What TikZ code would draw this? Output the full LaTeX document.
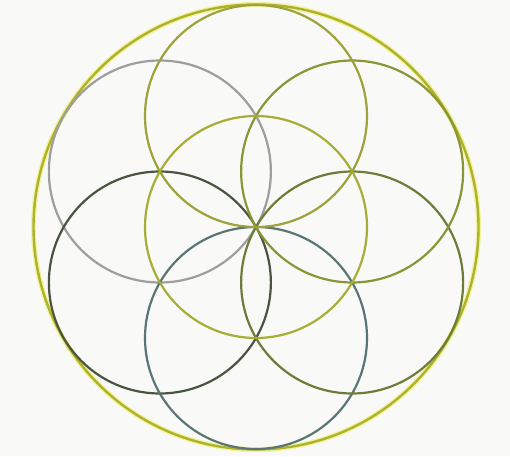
\documentclass[tikz,border=0pt]{standalone}
\usetikzlibrary{calc}
\definecolor{bgc}{HTML}{F9F9F7}
\definecolor{outerc}{HTML}{B0B22C}
\definecolor{glowc}{HTML}{EEF27A}
\definecolor{topc}{HTML}{9EA23A}
\definecolor{urc}{HTML}{8A9636}
\definecolor{lrc}{HTML}{6C7C3A}
\definecolor{botc}{HTML}{5A7674}
\definecolor{llc}{HTML}{4A5442}
\definecolor{ulc}{HTML}{9E9E9E}
\definecolor{cenc}{HTML}{A6AE36}
\tikzset{
  petal/.style={line width=2.2pt},
  glow/.style={line width=5pt, glowc, opacity=0.7},
}
\begin{document}
\begin{tikzpicture}[x=1pt,y=1pt]
\fill[bgc] (0,0) rectangle (510,456);
\useasboundingbox (0,0) rectangle (510,456);
\coordinate (C) at (256,229);
\def\rr{111}
\coordinate (P1) at ($(C)+(90:\rr)$);
\coordinate (P2) at ($(C)+(30:\rr)$);
\coordinate (P3) at ($(C)+(-30:\rr)$);
\coordinate (P4) at ($(C)+(-90:\rr)$);
\coordinate (P5) at ($(C)+(-150:\rr)$);
\coordinate (P6) at ($(C)+(150:\rr)$);
% outer circle with glow
\draw[glow] (C) circle (222.5);
\draw[outerc, line width=2.4pt] (C) circle (222.5);
% petals
\draw[petal, ulc] (P6) circle (\rr);
\draw[petal, llc] (P5) circle (\rr);
\draw[petal, botc] (P4) circle (\rr);
\draw[petal, lrc] (P3) circle (\rr);
\draw[petal, urc] (P2) circle (\rr);
\draw[petal, topc] (P1) circle (\rr);
\draw[petal, cenc] (C) circle (\rr);
\end{tikzpicture}
\end{document}
